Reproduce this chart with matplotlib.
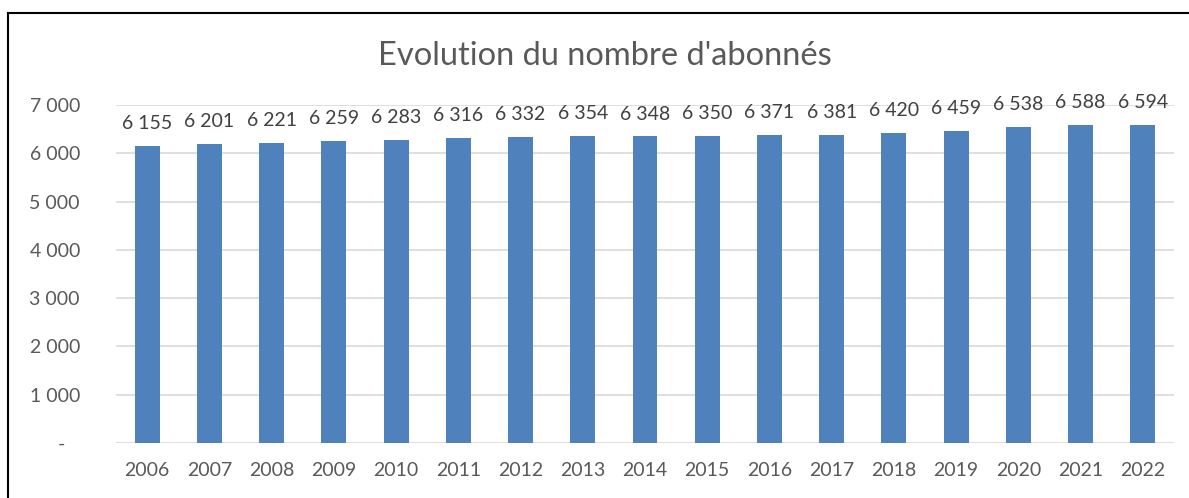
import matplotlib
matplotlib.use("Agg")
import matplotlib.pyplot as plt
from matplotlib.lines import Line2D
from matplotlib.ticker import FuncFormatter

# data
years = ["2006", "2007", "2008", "2009", "2010", "2011", "2012", "2013", "2014",
         "2015", "2016", "2017", "2018", "2019", "2020", "2021", "2022"]
abonnes = [6155, 6201, 6221, 6259, 6283, 6316, 6332, 6354, 6348,
           6350, 6371, 6381, 6420, 6459, 6538, 6588, 6594]
y_ticks = [0, 1000, 2000, 3000, 4000, 5000, 6000, 7000]

plt.rcParams['font.family'] = ['Lato', 'DejaVu Sans']

W, H = 1189, 498
fig = plt.figure(figsize=(W / 100, H / 100), dpi=100)
ax = fig.add_axes([116 / W, 55 / H, (1174 - 116) / W, (443 - 105) / H])


def fr(v):
    # french thousands separator
    return f"{int(v):,}".replace(",", " ")


x = range(len(years))
bars = ax.bar(x, abonnes, width=0.4, color="#4F81BD", zorder=3)
for xi, v in zip(x, abonnes):
    ax.annotate(fr(v), (xi, v), xytext=(0, 10), textcoords="offset points",
                ha="center", va="bottom", fontsize=14, color="#404040")

ax.set_xlim(-0.5, len(years) - 0.5)
ax.set_ylim(0, 7000)
ax.set_yticks(y_ticks)
ax.yaxis.set_major_formatter(FuncFormatter(lambda v, p: "-   " if v == 0 else fr(v)))
ax.set_xticks(list(x))
ax.set_xticklabels(years)

ax.grid(axis="y", color="#D9D9D9", linewidth=1.2, zorder=0)
for s in ax.spines.values():
    s.set_visible(False)
ax.tick_params(axis="both", length=0, labelsize=14, labelcolor="#595959")
ax.tick_params(axis="y", pad=26)
ax.tick_params(axis="x", pad=14)

fig.text(605 / W, 1 - 65 / H, "Evolution du nombre d'abonnés", ha="center",
         va="baseline", fontsize=23.5, color="#595959")

# chart frame (left and top edges visible)
fig.add_artist(Line2D([8 / W, 8 / W], [0, 1 - 13 / H], color="black", linewidth=1.5,
                      transform=fig.transFigure))
fig.add_artist(Line2D([8 / W, 1], [1 - 13 / H, 1 - 13 / H], color="black", linewidth=1.5,
                      transform=fig.transFigure))

fig.savefig("out.png", dpi=100)
